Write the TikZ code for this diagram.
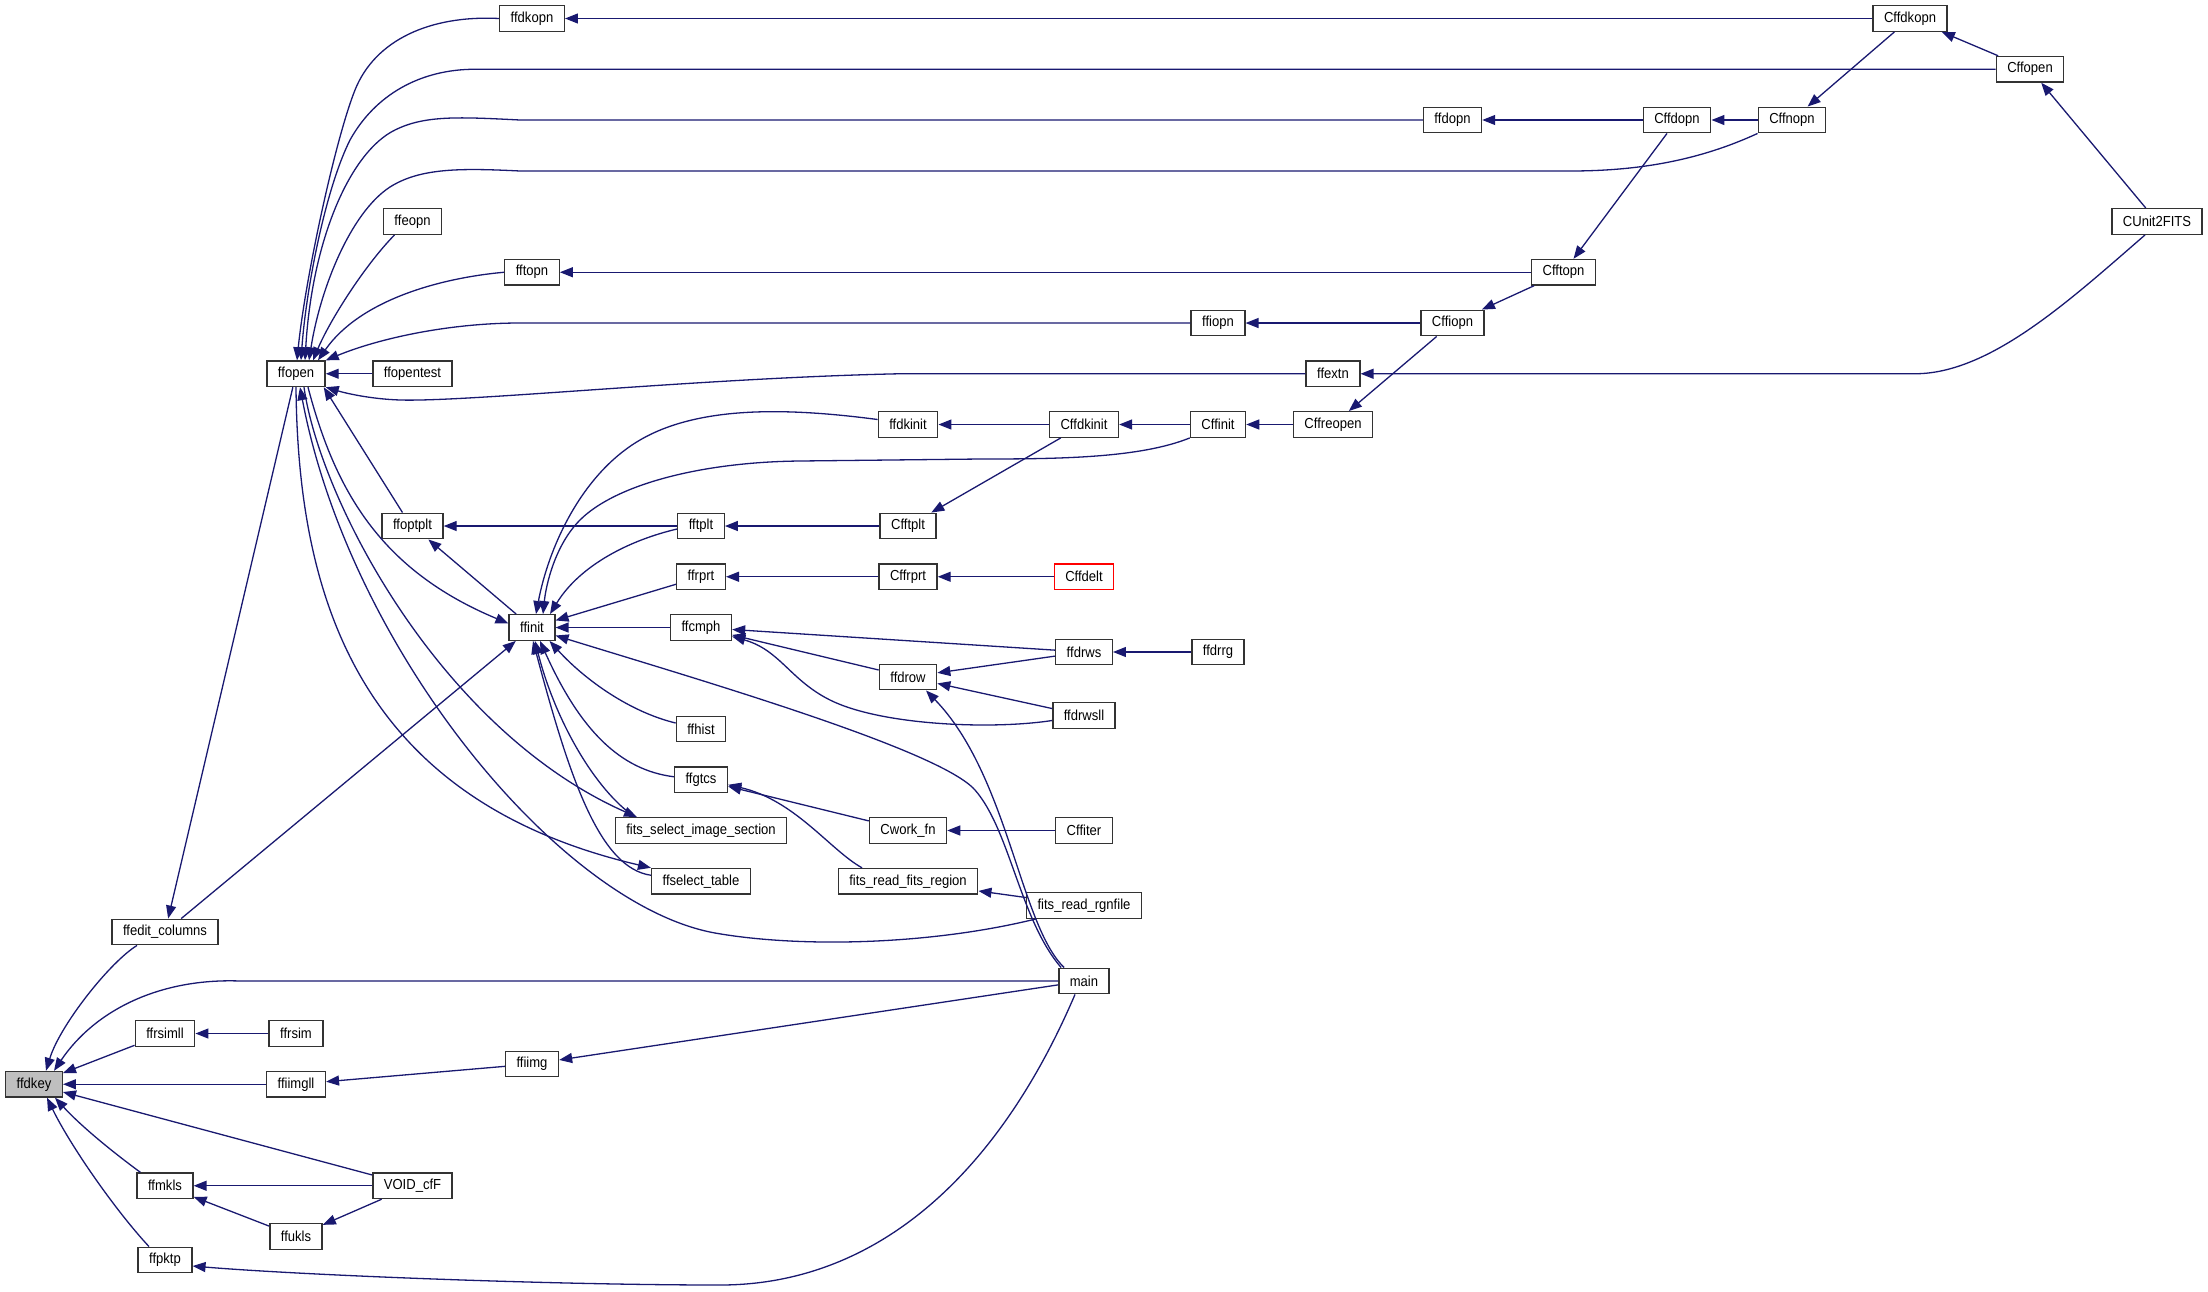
\documentclass[tikz,border=0pt]{standalone}
\usepackage{fontspec}
\setmainfont{Liberation Sans}[FakeStretch=0.9]
\usetikzlibrary{arrows.meta}
\definecolor{callblue}{RGB}{25,25,112}
\definecolor{hlgray}{RGB}{191,191,191}
\newcommand{\fnfont}{\fontsize{14.5}{16}\selectfont}
\tikzset{%
         fn/.style = { draw=black!80, line width=1.4pt, fill=white, minimum height=25.5pt,
                       inner xsep=11pt, inner ysep=0pt, font=\fnfont },
      fnsel/.style = { fn, fill=hlgray },
      fnred/.style = { fn, draw=red },
       call/.style = { draw=callblue, line width=1.3pt, -{Triangle[length=13pt,width=10pt]} }
}
\begin{document}
\begin{tikzpicture}[x=1pt,y=-1pt]
  \useasboundingbox (0,0) rectangle (2208,1291);

  \node[fn] (ffdkopn)    at (532,18.5)    {ffdkopn};
  \node[fn] (Cffdkopn)   at (1910,18.5)   {Cffdkopn};
  \node[fn] (Cffopen)    at (2030,69.25)  {Cffopen};
  \node[fn] (ffdopn)     at (1452.5,120)  {ffdopn};
  \node[fn] (Cffdopn)    at (1677,120)    {Cffdopn};
  \node[fn] (Cffnopn)    at (1792,120)    {Cffnopn};
  \node[fn] (ffeopn)     at (412.5,221.5) {ffeopn};
  \node[fn] (CUnit2FITS) at (2157,221.5)  {CUnit2FITS};
  \node[fn] (fftopn)     at (532,272.25)  {fftopn};
  \node[fn] (Cfftopn)    at (1563.5,272.25) {Cfftopn};
  \node[fn] (ffiopn)     at (1218,323)    {ffiopn};
  \node[fn] (Cffiopn)    at (1452.5,323)  {Cffiopn};
  \node[fn] (ffopen)     at (296,373.75)  {ffopen};
  \node[fn] (ffopentest) at (412.5,373.75) {ffopentest};
  \node[fn] (ffextn)     at (1333,373.75) {ffextn};
  \node[fn] (ffdkinit)   at (908,424.5)   {ffdkinit};
  \node[fn] (Cffdkinit)  at (1084,424.5)  {Cffdkinit};
  \node[fn] (Cffinit)    at (1218,424.5)  {Cffinit};
  \node[fn] (Cffreopen)  at (1333,424.5)  {Cffreopen};
  \node[fn] (ffoptplt)   at (412.5,526)   {ffoptplt};
  \node[fn] (fftplt)     at (701,526)     {fftplt};
  \node[fn] (Cfftplt)    at (908,526)     {Cfftplt};
  \node[fn] (ffrprt)     at (701,576.75)  {ffrprt};
  \node[fn] (Cffrprt)    at (908,576.75)  {Cffrprt};
  \node[fnred] (Cffdelt) at (1084,576.75) {Cffdelt};
  \node[fn] (ffinit)     at (532,627.5)   {ffinit};
  \node[fn] (ffcmph)     at (701,627.5)   {ffcmph};
  \node[fn] (ffdrws)     at (1084,652)    {ffdrws};
  \node[fn] (ffdrrg)     at (1218,652)    {ffdrrg};
  \node[fn] (ffdrow)     at (908,677)     {ffdrow};
  \node[fn] (ffdrwsll)   at (1084,715.5)  {ffdrwsll};
  \node[fn] (ffhist)     at (701,729)     {ffhist};
  \node[fn] (ffgtcs)     at (701,779.75)  {ffgtcs};
  \node[fn] (fitsselect) at (701,830.5)   {fits\_select\_image\_section};
  \node[fn] (cworkfn)    at (908,830.5)   {Cwork\_fn};
  \node[fn] (Cffiter)    at (1084,830.5)  {Cffiter};
  \node[fn] (ffseltable) at (701,881.25)  {ffselect\_table};
  \node[fn] (fitsreadreg) at (908,881.25) {fits\_read\_fits\_region};
  \node[fn] (fitsreadrgn) at (1084,905.5) {fits\_read\_rgnfile};
  \node[fn] (ffeditcol)  at (165,932)     {ffedit\_columns};
  \node[fn] (main)       at (1084,981)    {main};
  \node[fn] (ffrsimll)   at (165,1033.5)  {ffrsimll};
  \node[fn] (ffrsim)     at (296,1033.5)  {ffrsim};
  \node[fn] (ffiimg)     at (532,1064)    {ffiimg};
  \node[fnsel] (ffdkey)  at (34,1084.25)  {ffdkey};
  \node[fn] (ffiimgll)   at (296,1084.25) {ffiimgll};
  \node[fn] (ffmkls)     at (165,1185.75) {ffmkls};
  \node[fn] (voidcff)    at (412.5,1185.75) {VOID\_cfF};
  \node[fn] (ffukls)     at (296,1236.5)  {ffukls};
  \node[fn] (ffpktp)     at (165,1260)    {ffpktp};

  % open chain
  \draw[call] (Cffdkopn) -- (ffdkopn);
  \draw[call] (Cffopen) -- (Cffdkopn);
  \draw[call] (CUnit2FITS) -- (Cffopen);
  \draw[call] (Cffdkopn) -- (Cffnopn);
  \draw[call] (Cffdopn) -- (ffdopn);
  \draw[call] (Cffnopn) -- (Cffdopn);
  \draw[call] (Cffdopn) -- (Cfftopn);
  \draw[call] (Cfftopn) -- (fftopn);
  \draw[call] (Cfftopn) -- (Cffiopn);
  \draw[call] (Cffiopn) -- (ffiopn);
  \draw[call] (Cffiopn) -- (Cffreopen);
  \draw[call] ([xshift=-12pt]CUnit2FITS.south) .. controls (2070,300) and (1990,373.75) .. (1915,373.75) -- (ffextn);

  \draw[call] (ffdkopn.west) .. controls (430,15) and (375,40) .. (355,90) .. controls (335,140) and (305,280) .. ([xshift=1pt]ffopen.north);
  \draw[call] (Cffopen) -- (475,69.25) .. controls (420,69.25) and (375,95) .. (350,140) .. controls (325,190) and (306,290) .. ([xshift=5pt]ffopen.north);
  \draw[call] (ffdopn) -- (520,120) .. controls (460,117) and (425,115) .. (395,130) .. controls (350,152) and (312,240) .. ([xshift=9pt]ffopen.north);
  \draw[call] (Cffnopn.south west) .. controls (1700,160) and (1640,171) .. (1570,171) -- (520,171) .. controls (460,168) and (420,168) .. (390,187) .. controls (350,213) and (320,290) .. ([xshift=13pt]ffopen.north);
  \draw[call] ([xshift=-18pt]ffeopn.south) .. controls (365,265) and (330,320) .. ([xshift=17pt]ffopen.north);
  \draw[call] (fftopn.west) .. controls (440,278) and (360,300) .. ([xshift=22pt]ffopen.north);
  \draw[call] (ffiopn) -- (520,323) .. controls (450,323) and (380,338) .. (ffopen.north east);
  \draw[call] (ffopentest) -- (ffopen);
  \draw[call] (ffextn) -- (900,373.75) .. controls (700,378) and (470,402) .. (400,400) .. controls (370,399) and (345,393) .. (ffopen.south east);
  \draw[call] ([xshift=-10pt]ffoptplt.north) -- ([xshift=-2pt]ffopen.south east);
  \draw[call] ([xshift=10pt]fitsreadrgn.south west) .. controls (930,945) and (800,948) .. (715,933) .. controls (560,905) and (350,650) .. ([xshift=4pt]ffopen.south);

  % ffopen down
  \draw[call] (ffopen) -- (ffeditcol);
  \draw[call] ([xshift=12pt]ffopen.south) .. controls (335,490) and (380,570) .. ([yshift=4pt]ffinit.west);
  \draw[call] (ffopen.south) .. controls (298,600) and (360,800) .. (ffseltable.north west);
  \draw[call] ([xshift=8pt]ffopen.south) .. controls (320,500) and (440,730) .. ([xshift=-64pt]fitsselect.north);

  % init
  \draw[call] (ffinit) -- (ffoptplt);
  \draw[call] (fftplt) -- (ffoptplt);
  \draw[call] (Cffdkinit) -- (ffdkinit);
  \draw[call] (Cffinit) -- (Cffdkinit);
  \draw[call] (Cffreopen) -- (Cffinit);
  \draw[call] (Cffdkinit) -- (Cfftplt);
  \draw[call] (Cfftplt) -- (fftplt);
  \draw[call] (Cffrprt) -- (ffrprt);
  \draw[call] (Cffdelt) -- (Cffrprt);
  \draw[call] ([yshift=5pt]ffdkinit.west) .. controls (790,408) and (700,405) .. (640,440) .. controls (580,475) and (548,550) .. ([xshift=4pt]ffinit.north);
  \draw[call] (Cffinit.south west) .. controls (1140,458) and (1060,459) .. (980,459) -- (800,461) .. controls (700,462) and (615,485) .. (580,520) .. controls (555,545) and (546,585) .. ([xshift=11pt]ffinit.north);
  \draw[call] ([yshift=-3pt]fftplt.west) .. controls (630,540) and (580,565) .. ([xshift=18pt]ffinit.north);
  \draw[call] (ffrprt) -- (ffinit);
  \draw[call] (ffcmph) -- (ffinit);
  \draw[call] ([yshift=6pt]ffhist.west) .. controls (630,712) and (585,680) .. ([xshift=-6pt]ffinit.south east);
  \draw[call] ([yshift=3pt]ffgtcs.west) .. controls (620,770) and (580,730) .. ([xshift=8pt]ffinit.south);
  \draw[call] ([xshift=-66pt]fitsselect.north) .. controls (595,790) and (555,720) .. ([xshift=3pt]ffinit.south);
  \draw[call] ([yshift=6pt]ffseltable.west) .. controls (600,868) and (570,780) .. ([xshift=1pt]ffinit.south);
  \draw[call] ([xshift=3pt]main.north west) .. controls (1020,920) and (1010,830) .. (975,790) .. controls (940,750) and (700,680) .. ([yshift=-8pt]ffinit.east);
  \draw[call] (ffeditcol) -- (ffinit);

  % rows
  \draw[call] (ffdrws) -- (ffcmph);
  \draw[call] (ffdrow) -- (ffcmph);
  \draw[call] ([yshift=-5pt]ffdrwsll.west) .. controls (990,730) and (880,725) .. (830,700) .. controls (790,680) and (780,650) .. ([yshift=-9pt]ffcmph.east);
  \draw[call] (ffdrws) -- (ffdrow);
  \draw[call] (ffdrwsll) -- (ffdrow);
  \draw[call] (ffdrrg) -- (ffdrws);
  \draw[call] ([xshift=6pt]main.north west) .. controls (1020,925) and (1008,775) .. ([xshift=18pt]ffdrow.south);
  \draw[call] (cworkfn) -- (ffgtcs);
  \draw[call] (Cffiter) -- (cworkfn);
  \draw[call] ([xshift=-46pt]fitsreadreg.north) .. controls (830,850) and (795,800) .. ([yshift=-5pt]ffgtcs.east);
  \draw[call] (fitsreadrgn) -- (fitsreadreg);

  % ffdkey callers
  \draw[call] ([xshift=-28pt]ffeditcol.south) .. controls (110,962) and (60,1025) .. ([xshift=12pt]ffdkey.north);
  \draw[call] (main) -- (240,981) .. controls (160,978) and (95,1010) .. ([xshift=20pt]ffdkey.north);
  \draw[call] (ffrsimll) -- (ffdkey);
  \draw[call] (ffrsim) -- (ffrsimll);
  \draw[call] (ffiimgll) -- (ffdkey);
  \draw[call] (ffiimg) -- (ffiimgll);
  \draw[call] (main) -- (ffiimg);
  \draw[call] (voidcff) -- (ffdkey);
  \draw[call] ([xshift=4pt]ffmkls.north west) .. controls (110,1150) and (80,1125) .. ([xshift=-8pt]ffdkey.south east);
  \draw[call] (voidcff) -- (ffmkls);
  \draw[call] (ffukls) -- (ffmkls);
  \draw[call] (voidcff) -- (ffukls);
  \draw[call] ([xshift=-16pt]ffpktp.north) .. controls (115,1210) and (70,1145) .. ([xshift=13pt]ffdkey.south);
  \draw[call] ([xshift=-9pt]main.south) .. controls (1000,1170) and (880,1285) .. (720,1285) .. controls (550,1285) and (300,1275) .. ([yshift=-6pt]ffpktp.east);

\end{tikzpicture}
\end{document}
